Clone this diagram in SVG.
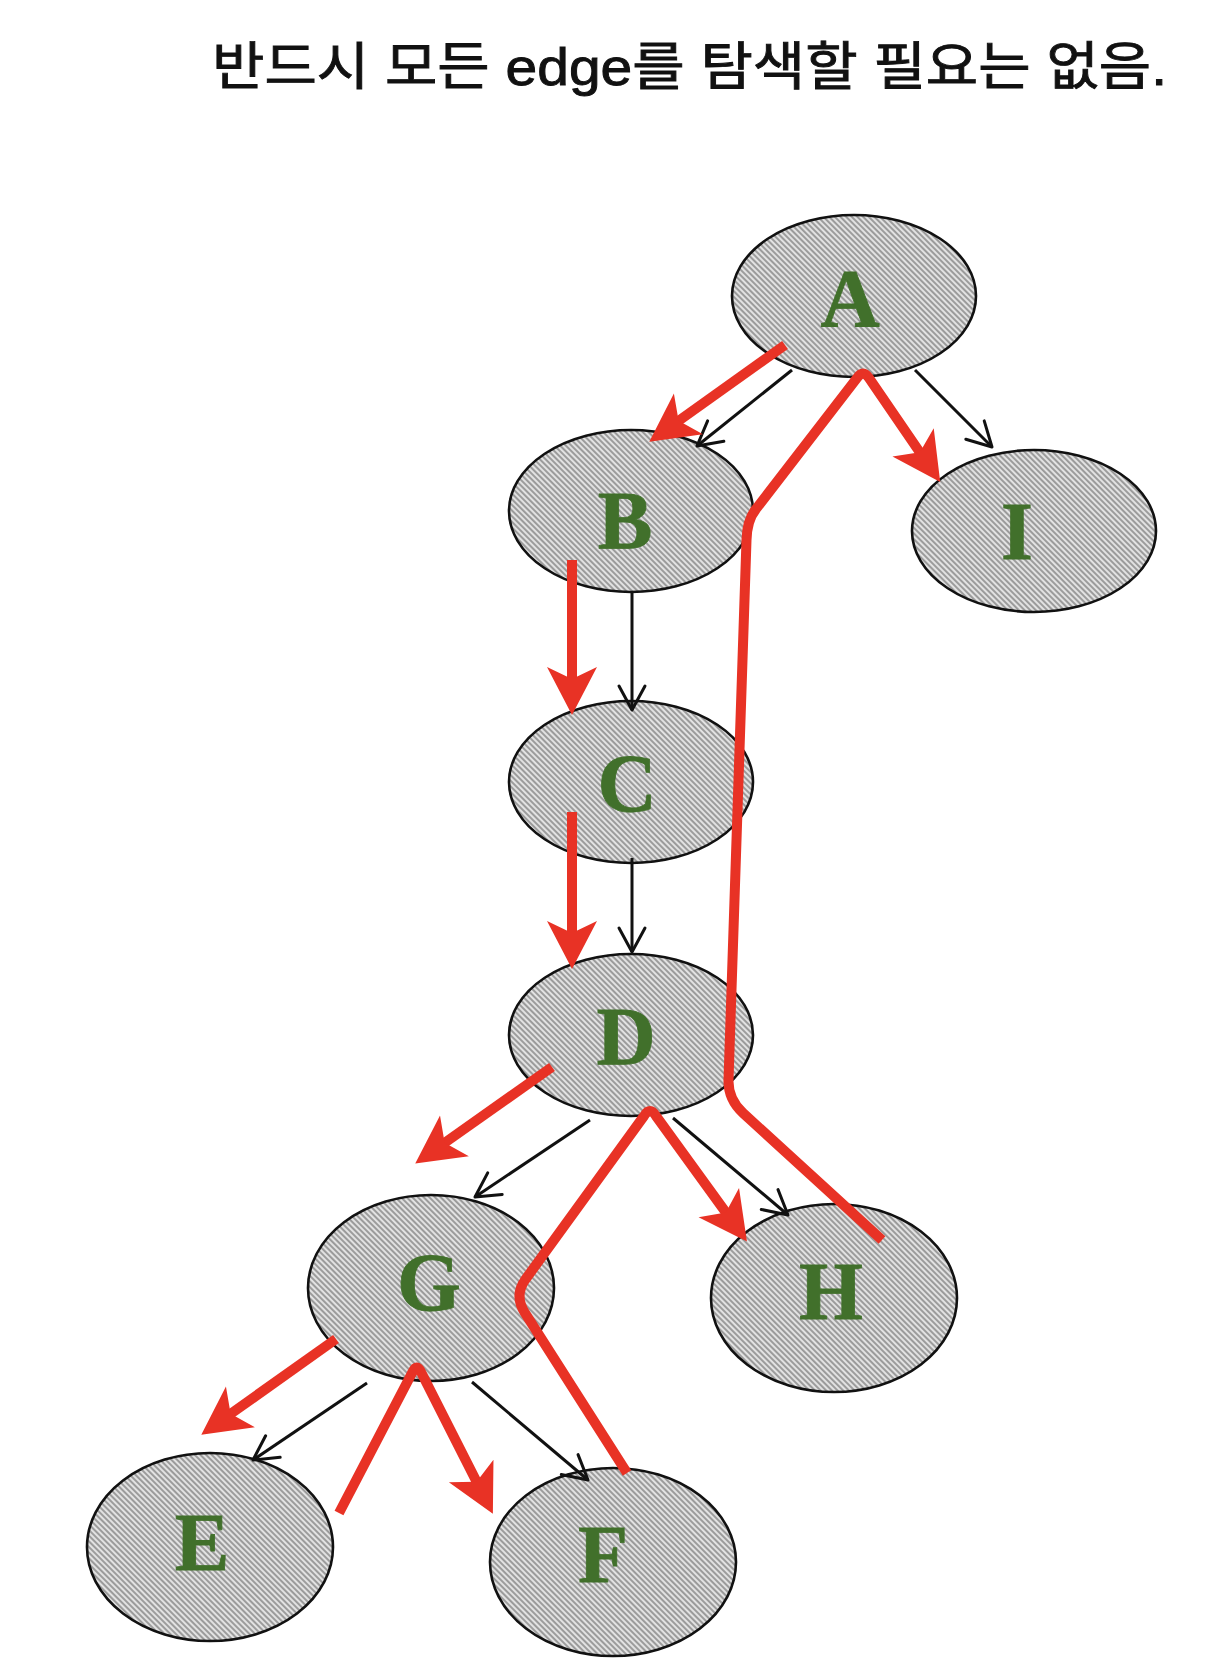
<svg xmlns="http://www.w3.org/2000/svg" width="1214" height="1678" viewBox="0 0 1214 1678">
<style>
.title{font-family:"Liberation Sans","Noto Sans CJK KR",sans-serif;font-size:52px;fill:#111;stroke:#111;stroke-width:0.9}
.node{fill:url(#hatch);stroke:#111;stroke-width:2.6}
.lbl{font-family:"Liberation Serif","DejaVu Serif",serif;font-weight:bold;font-size:82px;fill:#41702b;text-anchor:middle;stroke:#41702b;stroke-width:0.8}
.edge{fill:none;stroke:#111;stroke-width:3;marker-end:url(#vhead)}
.red{fill:none;stroke:#e83225;stroke-width:10;stroke-linejoin:round}
.redA{marker-end:url(#rhead)}
</style>
<defs>
<pattern id="hatch" patternUnits="userSpaceOnUse" width="4" height="4" patternTransform="rotate(-45)">
<rect width="4" height="4" fill="#e2e2e2"/>
<line x1="1" y1="0" x2="1" y2="4" stroke="#8a8a8a" stroke-width="1.6"/>
</pattern>
<marker id="vhead" markerUnits="userSpaceOnUse" markerWidth="40" markerHeight="40" viewBox="-30 -20 40 40" refX="0" refY="0" orient="auto">
<polyline points="-24,-13 0,0 -24,13" fill="none" stroke="#111" stroke-width="3" stroke-linecap="round" stroke-linejoin="round"/>
</marker>
<marker id="rhead" markerUnits="userSpaceOnUse" markerWidth="64" markerHeight="64" viewBox="-5 -32 64 64" refX="14" refY="0" orient="auto">
<path d="M48,0 L0,-25 L12,0 L0,25 Z" fill="#e83225"/>
</marker>
</defs>
<rect width="1214" height="1678" fill="#fff"/>
<text class="title" x="212" y="85" textLength="955" lengthAdjust="spacingAndGlyphs">반드시 모든 edge를 탐색할 필요는 없음.</text>
<g id="nodeA"><ellipse class="node" cx="854" cy="296" rx="122" ry="81"/><text class="lbl" x="850" y="326">A</text></g>
<g id="nodeB"><ellipse class="node" cx="631" cy="511" rx="122" ry="81"/><text class="lbl" x="625" y="548">B</text></g>
<g id="nodeI"><ellipse class="node" cx="1034" cy="531" rx="122" ry="81"/><text class="lbl" x="1017" y="559">I</text></g>
<g id="nodeC"><ellipse class="node" cx="631" cy="782" rx="122" ry="81"/><text class="lbl" x="627" y="811">C</text></g>
<g id="nodeD"><ellipse class="node" cx="631" cy="1035" rx="122" ry="81"/><text class="lbl" x="626" y="1064">D</text></g>
<g id="nodeG"><ellipse class="node" cx="431" cy="1288" rx="123" ry="93"/><text class="lbl" x="429" y="1310">G</text></g>
<g id="nodeH"><ellipse class="node" cx="834" cy="1298" rx="123" ry="94"/><text class="lbl" x="831" y="1319">H</text></g>
<g id="nodeE"><ellipse class="node" cx="210" cy="1547" rx="123" ry="94"/><text class="lbl" x="202" y="1570">E</text></g>
<g id="nodeF"><ellipse class="node" cx="613" cy="1562" rx="123" ry="94"/><text class="lbl" x="603" y="1582">F</text></g>
<g id="connectors">
<line class="edge" x1="792" y1="370" x2="697" y2="446"/>
<line class="edge" x1="915" y1="370" x2="992" y2="447"/>
<line class="edge" x1="632" y1="593" x2="632" y2="710"/>
<line class="edge" x1="632" y1="858" x2="632" y2="952"/>
<line class="edge" x1="590" y1="1120" x2="475" y2="1197"/>
<line class="edge" x1="673" y1="1118" x2="788" y2="1215"/>
<line class="edge" x1="367" y1="1383" x2="253" y2="1460"/>
<line class="edge" x1="472" y1="1382" x2="588" y2="1480"/>
<path class="red redA" d="M785,345 L677,422"/>
<path class="red redA" d="M882,1240 L743,1113 Q728,1099 728.5,1080 L746.5,540 Q747,520 756,509 L857,378 Q863,369 869,378 L921,454"/>
<path class="red redA" d="M572,560 L572,681"/>
<path class="red redA" d="M572,812 L572,935"/>
<path class="red redA" d="M552,1067 L443,1144"/>
<path class="red redA" d="M627,1473 L525,1313 Q514,1296 525,1280 L644,1116 Q650,1106 656,1116 L727,1214"/>
<path class="red redA" d="M336,1339 L229,1415"/>
<path class="red redA" d="M339,1513 L412,1373 Q417,1362 421.5,1373 L477.5,1483.5"/>
</g>
</svg>
